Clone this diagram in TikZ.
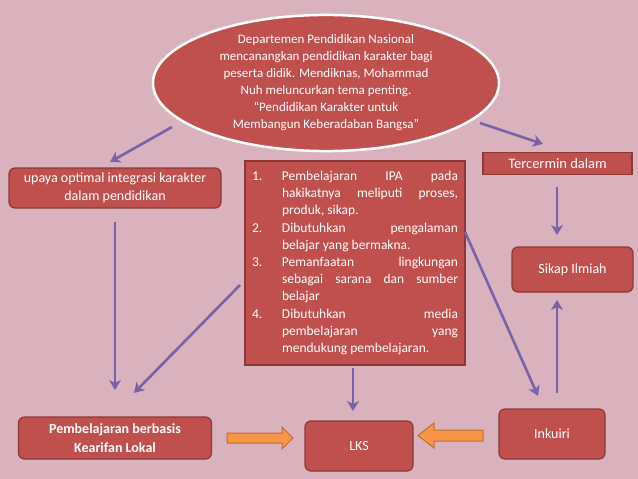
\documentclass[tikz,border=0pt]{standalone}
\usepackage{fontspec}
\setmainfont{Carlito}
\usetikzlibrary{arrows.meta,shapes.geometric}
\definecolor{bg}{RGB}{218,178,189}
\definecolor{boxred}{RGB}{192,80,77}
\definecolor{boxedge}{RGB}{140,56,54}
\definecolor{purp}{RGB}{122,98,170}
\definecolor{orng}{RGB}{247,150,70}
\definecolor{orngedge}{RGB}{190,110,50}
\begin{document}
\begin{tikzpicture}[x=1pt,y=-1pt,
 redbox/.style={draw=boxedge, line width=1.2pt, fill=boxred, text=white, align=center, inner sep=0pt},
 roundbox/.style={redbox, rounded corners=6pt},
 parrow/.style={draw=purp, line width=2.6pt, -{Stealth[length=10pt,width=12pt,inset=3pt]}},
 oarrow/.style={draw=orngedge, line width=1pt, fill=orng, line join=miter},
 txt/.style={font=\fontsize{13}{17}\selectfont},
]
\fill[bg] (0,0) rectangle (638,479);
\useasboundingbox (0,0) rectangle (638,479);

\node[ellipse, draw=white, line width=2.5pt, fill=boxred, text=white, minimum width=346pt, minimum height=134pt, inner sep=0pt, align=center, txt] (ell) at (326,83)
 {Departemen Pendidikan Nasional\\mencanangkan pendidikan karakter bagi\\peserta didik. Mendiknas, Mohammad\\Nuh meluncurkan tema penting.\\“Pendidikan Karakter untuk\\Membangun Keberadaban Bangsa”};

\node[roundbox, minimum width=212pt, minimum height=40pt, font=\fontsize{14}{18}\selectfont] (upaya) at (115,188)
 {upaya optimal integrasi karakter\\dalam pendidikan};

\node[redbox, minimum width=220pt, minimum height=204pt, text width=206pt, align=justify, font=\fontsize{13.5}{17.2}\selectfont] (list) at (355,263)
 {\hangindent=30pt\hangafter=1\noindent\makebox[30pt][l]{1.}Pembelajaran IPA pada\linebreak hakikatnya meliputi proses,\linebreak produk, sikap.\par
  \hangindent=30pt\hangafter=1\noindent\makebox[30pt][l]{2.}Dibutuhkan pengalaman\linebreak belajar yang bermakna.\par
  \hangindent=30pt\hangafter=1\noindent\makebox[30pt][l]{3.}Pemanfaatan lingkungan\linebreak sebagai sarana dan sumber\linebreak belajar\par
  \hangindent=30pt\hangafter=1\noindent\makebox[30pt][l]{4.}Dibutuhkan media\linebreak pembelajaran yang\linebreak mendukung pembelajaran.\par};

\node[redbox, minimum width=149pt, minimum height=22pt, font=\fontsize{14.5}{17}\selectfont] (terc) at (557.5,163.5) {Tercermin dalam};
\node[roundbox, minimum width=121pt, minimum height=45pt, font=\fontsize{14}{17}\selectfont] (sikap) at (572.5,269.5) {Sikap Ilmiah};
\node[roundbox, minimum width=193pt, minimum height=42pt, font=\bfseries\fontsize{14}{19}\selectfont] (pemb) at (115,438) {Pembelajaran berbasis\\Kearifan Lokal};
\node[roundbox, minimum width=108pt, minimum height=50pt, font=\fontsize{14}{17}\selectfont] (lks) at (359,446) {LKS};
\node[roundbox, minimum width=106pt, minimum height=50pt, font=\fontsize{14}{17}\selectfont] (ink) at (552,434) {Inkuiri};

% purple connectors
\coordinate (a1s) at (172,127); \coordinate (a1e) at (110,162);
\coordinate (a2s) at (480,123); \coordinate (a2e) at (543,144);
\coordinate (a3s) at (557,187); \coordinate (a3e) at (557,235);
\coordinate (a4s) at (115,222); \coordinate (a4e) at (115,390);
\coordinate (a5s) at (240,285); \coordinate (a5e) at (134,393);
\coordinate (a6s) at (353,368); \coordinate (a6e) at (353,411);
\coordinate (a7s) at (465,232); \coordinate (a7e) at (538,396);
\coordinate (a8s) at (557,393); \coordinate (a8e) at (557,300);
\draw[parrow] (a1s) -- (a1e);
\draw[parrow] (a2s) -- (a2e);
\draw[parrow] (a3s) -- (a3e);
\draw[parrow] (a4s) -- (a4e);
\draw[parrow] (a5s) -- (a5e);
\draw[parrow] (a6s) -- (a6e);
\draw[parrow] (a7s) -- (a7e);
\draw[parrow] (a8s) -- (a8e);

% orange block arrows
\draw[oarrow] (227,433) -- (282,433) -- (282,427) -- (293,438) -- (282,449) -- (282,443) -- (227,443) -- cycle;
\draw[oarrow] (483,430) -- (434,430) -- (434,423) -- (418,435.5) -- (434,448) -- (434,441) -- (483,441) -- cycle;
\end{tikzpicture}
\end{document}
